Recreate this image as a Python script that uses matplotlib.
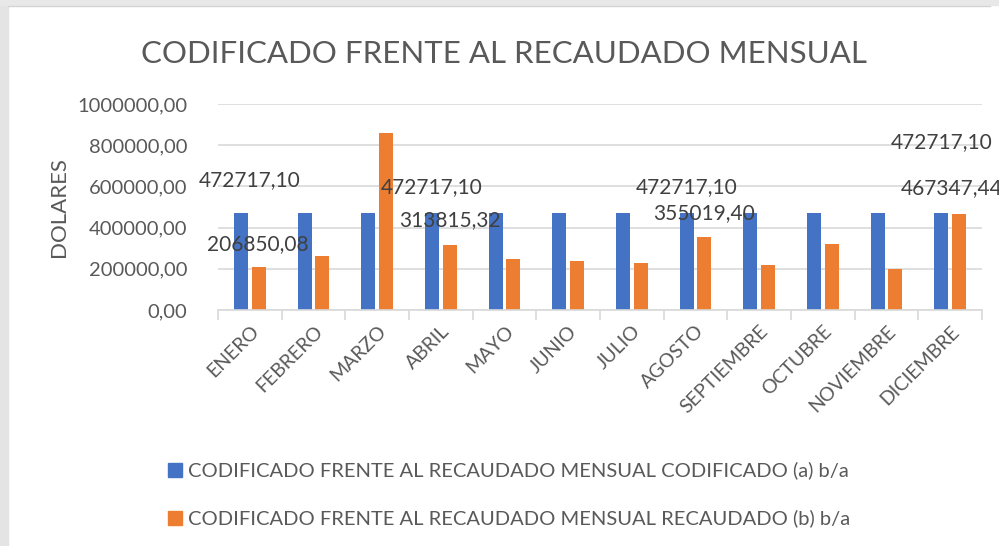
import matplotlib.pyplot as plt
import numpy as np
from matplotlib.patches import Rectangle

meses = ['ENERO', 'FEBRERO', 'MARZO', 'ABRIL', 'MAYO', 'JUNIO', 'JULIO',
         'AGOSTO', 'SEPTIEMBRE', 'OCTUBRE', 'NOVIEMBRE', 'DICIEMBRE']
codificado = [472717.10] * 12
recaudado = [206850.08, 263600, 857700, 313815.32, 246000, 237800, 226500,
             355019.40, 218400, 318700, 197400, 467347.44]
y_ticks = [0, 200000, 400000, 600000, 800000, 1000000]

serie_a = 'CODIFICADO FRENTE AL RECAUDADO MENSUAL CODIFICADO (a) b/a'
serie_b = 'CODIFICADO FRENTE AL RECAUDADO MENSUAL RECAUDADO (b) b/a'

# etiquetas de datos visibles: (serie, mes, posicion x, posicion y) como en Excel
etiquetas = [('a', 0, 0.0, 631000), ('b', 0, 0.13, 320000),
             ('a', 2, 2.85, 597000), ('b', 3, 3.15, 437000),
             ('a', 7, 6.86, 597000), ('b', 7, 7.13, 471000),
             ('a', 11, 10.87, 815000), ('b', 11, 11.02, 592000)]

AZUL = '#4472C4'
NARANJA = '#ED7D31'
GRIS_TXT = '#595959'
GRIS_LIN = '#D9D9D9'

plt.rcParams['font.family'] = ['Lato', 'DejaVu Sans']

def fmt(v):
    return '{:.2f}'.format(v).replace('.', ',')

fig = plt.figure(figsize=(9.99, 5.46), dpi=100)
W, H = 999, 546

# marco gris de la captura
fig.patches.append(Rectangle((0, 0), 8 / W, 1, transform=fig.transFigure,
                             color='#E4E4E4', zorder=0))
fig.patches.append(Rectangle((0, 1 - 5 / H), 1, 5 / H, transform=fig.transFigure,
                             color='#E8E8E8', zorder=0))
fig.lines.append(plt.Line2D([8 / W, 990 / W], [1 - 5.5 / H, 1 - 5.5 / H],
                            transform=fig.transFigure, color='#D4D4D4', lw=1))

ax = fig.add_axes([218 / W, (H - 310) / H, (982 - 218) / W, (310 - 104) / H])
x = np.arange(len(meses))
w = 0.22
ax.bar(x - 0.14, codificado, w, color=AZUL, zorder=2)
ax.bar(x + 0.14, recaudado, w, color=NARANJA, zorder=2)

ax.set_xlim(-0.5, len(meses) - 0.5)
ax.set_ylim(0, 1000000)
ax.set_yticks(y_ticks)
ax.set_yticklabels([fmt(v) for v in y_ticks], fontsize=14.5, color=GRIS_TXT)
ax.tick_params(axis='y', length=0, pad=22)
ax.yaxis.grid(True, color=GRIS_LIN, lw=1.2, zorder=0)
for s in ['top', 'right', 'left']:
    ax.spines[s].set_visible(False)
ax.spines['bottom'].set_color(GRIS_LIN)
ax.spines['bottom'].set_linewidth(1.2)

ax.set_xticks(x)
ax.set_xticklabels(meses, rotation=45, ha='right', rotation_mode='anchor',
                   fontsize=14, color=GRIS_TXT)
ax.tick_params(axis='x', length=0, pad=9)
ax.set_xticks(np.arange(-0.5, len(meses)), minor=True)
ax.tick_params(axis='x', which='minor', length=7, color=GRIS_LIN, width=1.2)

ax.set_ylabel('DOLARES', fontsize=16, color=GRIS_TXT, labelpad=6)

for serie, i, xp, yp in etiquetas:
    v = codificado[i] if serie == 'a' else recaudado[i]
    ax.text(xp, yp, fmt(v), ha='center', va='center', fontsize=15,
            color='#404040', clip_on=False, zorder=3)

fig.text(504 / W, 1 - 54 / H, 'CODIFICADO FRENTE AL RECAUDADO MENSUAL',
         ha='center', va='center', fontsize=22.5, color=GRIS_TXT)

# leyenda
for yy, col, txt in [(470, AZUL, serie_a), (518, NARANJA, serie_b)]:
    fig.patches.append(Rectangle((168 / W, 1 - (yy + 7) / H), 14 / W, 14 / H,
                                 transform=fig.transFigure, color=col))
    fig.text(188 / W, 1 - yy / H, txt, ha='left', va='center',
             fontsize=14.5, color=GRIS_TXT)

fig.savefig('out.png', dpi=100)
